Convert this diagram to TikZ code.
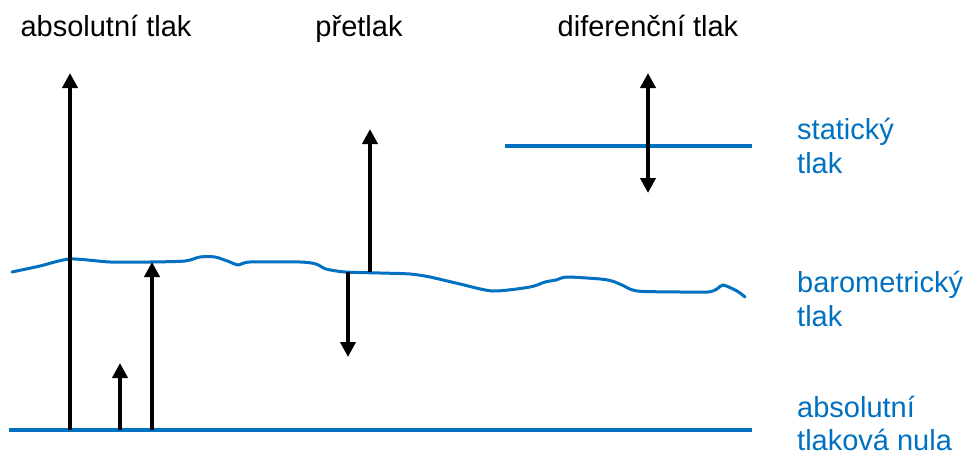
\documentclass[tikz,border=0pt]{standalone}
\usepackage{fontspec}
\setmainfont{Liberation Sans}
\usetikzlibrary{arrows.meta}
\definecolor{refblue}{RGB}{0,112,192}
\tikzset{
  lbl/.style={font=\fontsize{29}{34}\selectfont, inner sep=0pt},
  bluelbl/.style={lbl, text=refblue, anchor=base west},
  toplbl/.style={lbl, anchor=base},
  level/.style={draw=refblue, line width=3.5pt},
  wave/.style={draw=refblue, line width=3pt, line join=round, line cap=round},
  parrow/.style={draw=black, line width=4pt, -{Triangle[width=15pt,length=15pt]}},
  darrow/.style={draw=black, line width=4pt, {Triangle[width=15pt,length=15pt]}-{Triangle[width=15pt,length=15pt]}}
}
\begin{document}
\begin{tikzpicture}[x=1pt,y=-1pt]
\useasboundingbox (0,0) rectangle (966,455);
% top labels
\node[toplbl] (tabs) at (106,36) {absolutní tlak};
\node[toplbl] (tpre) at (359,36) {přetlak};
\node[toplbl] (tdif) at (648,36) {diferenční tlak};
% right labels
\node[bluelbl] (s1) at (797,139) {statický};
\node[bluelbl] (s2) at (797,173) {tlak};
\node[bluelbl] (b1) at (797,292) {barometrický};
\node[bluelbl] (b2) at (797,326) {tlak};
\node[bluelbl] (n1) at (797,417) {absolutní};
\node[bluelbl] (n2) at (797,450) {tlaková nula};
% levels
\coordinate (z0) at (9,430);
\coordinate (z1) at (752,430);
\coordinate (st0) at (505,146);
\coordinate (st1) at (752,146);
\draw[level] (z0) -- (z1);
\draw[level] (st0) -- (st1);
% barometric wavy line
\draw[wave] plot[smooth, tension=0.45] coordinates {
 (12,272) (40,266) (70,259) (110,262) (150,262) (185,261) (200,257) (215,257)
 (230,262) (238,265) (250,262) (300,262) (316,264) (326,269) (345,272) (380,273)
 (410,274) (430,277) (460,284) (493,291) (530,287) (545,282) (556,280) (567,277)
 (600,279) (612,281) (622,285) (637,291) (680,292) (708,292) (717,289) (723,285)
 (737,291) (745,297)};
% arrow coordinates
\coordinate (a1b) at (70,430);  \coordinate (a1t) at (70,73);
\coordinate (a2b) at (120,430); \coordinate (a2t) at (120,363);
\coordinate (a3b) at (152,430); \coordinate (a3t) at (152,262);
\coordinate (a4b) at (370,272); \coordinate (a4t) at (370,129);
\coordinate (a5b) at (348,357); \coordinate (a5t) at (348,272);
\coordinate (a6t) at (648,73);  \coordinate (a6b) at (648,193);
\draw[parrow] (a1b) -- (a1t);
\draw[parrow] (a2b) -- (a2t);
\draw[parrow] (a3b) -- (a3t);
\draw[parrow] (a4b) -- (a4t);
\draw[parrow] (a5t) -- (a5b);
\draw[darrow] (a6t) -- (a6b);
\end{tikzpicture}
\end{document}
